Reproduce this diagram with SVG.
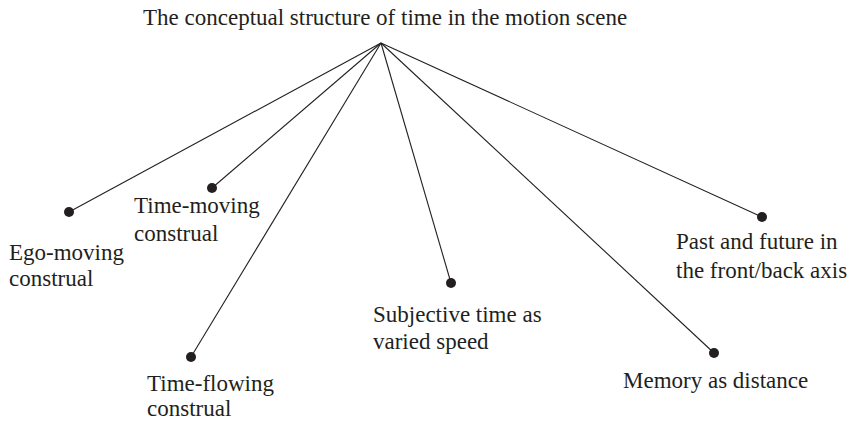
<svg xmlns="http://www.w3.org/2000/svg" width="856" height="421" viewBox="0 0 856 421">
<style>
text{font-family:"Liberation Serif","Times New Roman",serif;font-size:23px;fill:#231f20}
.c line{stroke:#231f20;stroke-width:1.1}
circle{fill:#231f20}
</style>
<rect width="856" height="421" fill="#fff"/>
<g id="title"><text x="143" y="25">The conceptual structure of time in the motion scene</text></g>
<g class="c" id="connectors">
<line x1="381" y1="43" x2="69" y2="212"/>
<line x1="381" y1="43" x2="212" y2="188"/>
<line x1="381" y1="43" x2="191" y2="357"/>
<line x1="381" y1="43" x2="451" y2="283"/>
<line x1="381" y1="43" x2="714" y2="353"/>
<line x1="381" y1="43" x2="762" y2="217"/>
</g>
<g id="ego"><circle cx="69" cy="212" r="5"/><text x="9" y="260">Ego-moving</text><text x="9" y="286">construal</text></g>
<g id="timemoving"><circle cx="212" cy="188" r="5"/><text x="134" y="213">Time-moving</text><text x="134" y="241">construal</text></g>
<g id="timeflowing"><circle cx="191" cy="357" r="5"/><text x="147" y="391">Time-flowing</text><text x="147" y="416">construal</text></g>
<g id="subjective"><circle cx="451" cy="283" r="5"/><text x="373" y="322">Subjective time as</text><text x="373" y="349">varied speed</text></g>
<g id="memory"><circle cx="714" cy="353" r="5"/><text x="623" y="388">Memory as distance</text></g>
<g id="past"><circle cx="762" cy="217" r="5"/><text x="676" y="249">Past and future in</text><text x="676" y="278">the front/back axis</text></g>
</svg>
